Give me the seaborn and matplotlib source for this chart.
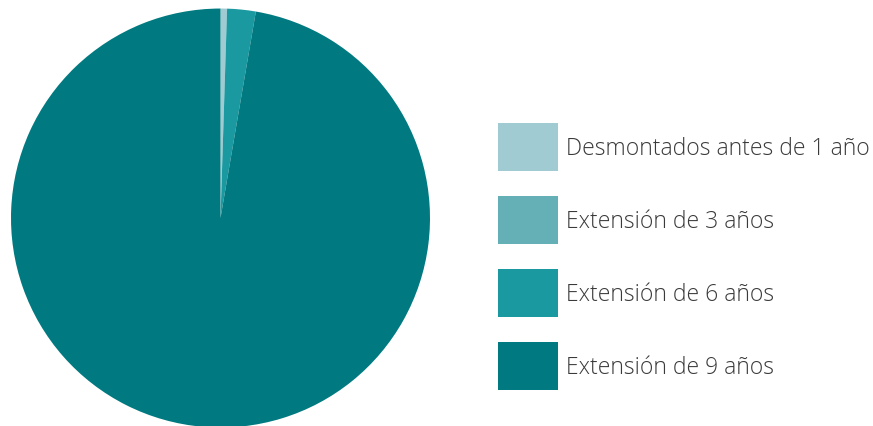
import matplotlib
matplotlib.use("Agg")
import matplotlib.pyplot as plt
import seaborn as sns

categories = ["Desmontados antes de 1 año", "Extensión de 3 años",
              "Extensión de 6 años", "Extensión de 9 años"]
values = [0.5, 0.0, 2.2, 97.3]
colors = ["#A0CBD2", "#65AFB7", "#1A9AA0", "#007A80"]

sns.set_theme(style="white")
plt.rcParams['font.family'] = ['Open Sans', 'DejaVu Sans']

fig = plt.figure(figsize=(8.73, 4.27), dpi=100)
ax = fig.add_axes([11/873, 0.487 - 0.4906, 419/873, 419/427])
wedges, _ = ax.pie(values, colors=colors, startangle=90, counterclock=False,
                   radius=1, wedgeprops=dict(linewidth=0))
ax.set_xlim(-1, 1)
ax.set_ylim(-1, 1)
ax.set_aspect('equal')

leg = fig.legend(wedges, categories, loc='upper left',
                 bbox_to_anchor=(498/873, 1 - 124/427),
                 bbox_transform=fig.transFigure,
                 frameon=False, borderpad=0, borderaxespad=0,
                 handlelength=2.62, handleheight=2.87, labelspacing=1.07,
                 handletextpad=0.36,
                 prop=dict(family=['Open Sans', 'DejaVu Sans'], size=16.5, weight='light'))
for t in leg.get_texts():
    t.set_color('#3a3a3a')

fig.savefig("out.png", dpi=100)
